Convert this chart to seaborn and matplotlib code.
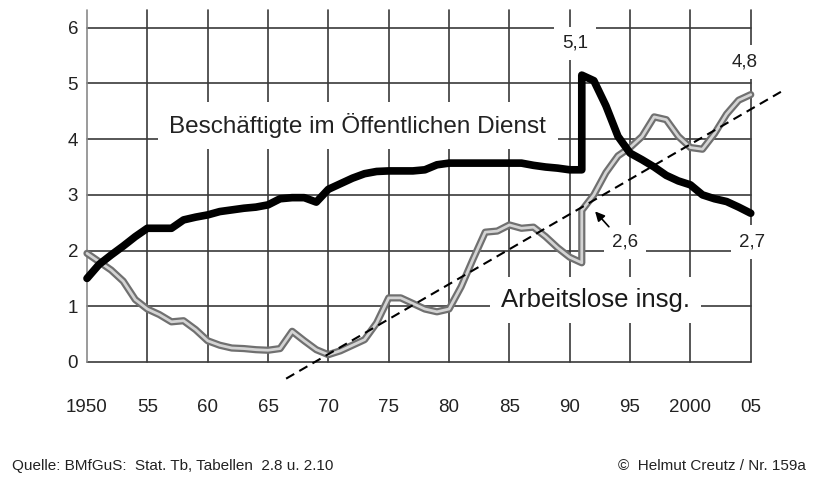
import numpy as np
import pandas as pd
import matplotlib
matplotlib.use("Agg")
import matplotlib.pyplot as plt
import matplotlib.patheffects as pe
import seaborn as sns

# --- data (millions / index values) ---
# public service employees (black line); 1991 appears twice for the jump (reunification)
staff_years = [1950, 1951, 1952, 1953, 1954, 1955, 1956, 1957, 1958, 1959,
               1960, 1961, 1962, 1963, 1964, 1965, 1966, 1967, 1968, 1969,
               1970, 1971, 1972, 1973, 1974, 1975, 1976, 1977, 1978, 1979,
               1980, 1981, 1982, 1983, 1984, 1985, 1986, 1987, 1988, 1989,
               1990, 1991, 1991, 1992, 1993, 1994, 1995, 1996, 1997, 1998,
               1999, 2000, 2001, 2002, 2003, 2004, 2005]
staff_values = [1.50, 1.75, 1.92, 2.08, 2.25, 2.40, 2.40, 2.40, 2.55, 2.60,
                2.64, 2.70, 2.73, 2.76, 2.78, 2.82, 2.93, 2.95, 2.95, 2.87,
                3.10, 3.20, 3.30, 3.38, 3.42, 3.43, 3.43, 3.43, 3.45, 3.54,
                3.57, 3.57, 3.57, 3.57, 3.57, 3.57, 3.57, 3.53, 3.50, 3.48,
                3.45, 3.45, 5.15, 5.05, 4.60, 4.05, 3.75, 3.63, 3.50, 3.35,
                3.25, 3.18, 3.00, 2.93, 2.88, 2.78, 2.67]

# unemployed total (grey line); 1991 twice (West -> all Germany)
jobless_years = [1950, 1951, 1952, 1953, 1954, 1955, 1956, 1957, 1958, 1959,
                 1960, 1961, 1962, 1963, 1964, 1965, 1966, 1967, 1968, 1969,
                 1970, 1971, 1972, 1973, 1974, 1975, 1976, 1977, 1978, 1979,
                 1980, 1981, 1982, 1983, 1984, 1985, 1986, 1987, 1988, 1989,
                 1990, 1991, 1991, 1992, 1993, 1994, 1995, 1996, 1997, 1998,
                 1999, 2000, 2001, 2002, 2003, 2004, 2005]
jobless_values = [1.95, 1.80, 1.65, 1.45, 1.12, 0.95, 0.85, 0.72, 0.74, 0.58,
                  0.38, 0.30, 0.25, 0.24, 0.22, 0.21, 0.24, 0.55, 0.38, 0.22,
                  0.13, 0.20, 0.30, 0.40, 0.70, 1.15, 1.15, 1.05, 0.95, 0.90,
                  0.95, 1.35, 1.85, 2.33, 2.35, 2.46, 2.40, 2.42, 2.25, 2.05,
                  1.88, 1.78, 2.72, 3.00, 3.40, 3.70, 3.85, 4.05, 4.40, 4.35,
                  4.05, 3.85, 3.82, 4.10, 4.45, 4.70, 4.80]

# dashed trend line of the unemployment series
trend_years = [1966.5, 2007.5]
trend_values = [-0.30, 4.85]

grid_years = [1950, 1955, 1960, 1965, 1970, 1975, 1980, 1985, 1990, 1995, 2000, 2005]
year_labels = ["1950", "55", "60", "65", "70", "75", "80", "85", "90", "95", "2000", "05"]
y_ticks = [0, 1, 2, 3, 4, 5, 6]

staff = pd.DataFrame({"Jahr": staff_years, "Wert": staff_values})
jobless = pd.DataFrame({"Jahr": jobless_years, "Wert": jobless_values})
trend = pd.DataFrame({"Jahr": trend_years, "Wert": trend_values})

sns.set_style("white")
plt.rcParams["font.family"] = ["Liberation Sans", "DejaVu Sans"]

fig = plt.figure(figsize=(8.17, 4.82), dpi=100)
ax = fig.add_axes([0.0991, 0.1971, 0.8641, 0.7857])
ax.set_xlim(1949.5, 2008)
ax.set_ylim(-0.45, 6.35)

# hand-drawn looking grid
grid_col = "#3a3a3a"
for y in y_ticks:
    ax.plot([1950, 2005], [y, y], color=grid_col, lw=1.2, zorder=1)
for yr in grid_years:
    col = "#8a8a8a" if yr == 1950 else grid_col
    ax.plot([yr, yr], [0, 6.32], color=col, lw=1.2, zorder=1)

# grey double line for the unemployed
sns.lineplot(data=jobless, x="Jahr", y="Wert", ax=ax, sort=False, estimator=None,
             color="#d4d4d4", lw=2.0, zorder=3,
             path_effects=[pe.Stroke(linewidth=5.2, foreground="#707070"), pe.Normal()])
sns.lineplot(data=trend, x="Jahr", y="Wert", ax=ax, sort=False, estimator=None,
             color="black", lw=1.5, dashes=False, zorder=4)
ax.lines[-1].set_dashes((4.5, 2.8))
sns.lineplot(data=staff, x="Jahr", y="Wert", ax=ax, sort=False, estimator=None,
             color="black", lw=5.5, zorder=5, solid_joinstyle="round")

box = dict(facecolor="white", edgecolor="none", pad=6)
big_box = dict(facecolor="white", edgecolor="none", pad=8)
ax.text(1972.45, 4.24, "Beschäftigte im Öffentlichen Dienst", fontsize=17.5,
        color="#222222", ha="center", va="center", bbox=big_box, zorder=2)
ax.text(1992.1, 1.11, "Arbeitslose insg.", fontsize=18.5, color="#1a1a1a",
        ha="center", va="center", bbox=big_box, zorder=2)
ax.text(1990.43, 5.72, "5,1", fontsize=13.5, color="#222222", ha="center", va="center", bbox=box, zorder=2)
ax.text(2004.5, 5.39, "4,8", fontsize=13.5, color="#222222", ha="center", va="center", bbox=box, zorder=2)
ax.text(1994.57, 2.15, "2,6", fontsize=13.5, color="#222222", ha="center", va="center", bbox=box, zorder=2)
ax.text(2005.1, 2.15, "2,7", fontsize=13.5, color="#222222", ha="center", va="center", bbox=box, zorder=2)
ax.annotate("", xy=(1991.95, 2.74), xytext=(1993.4, 2.39),
            arrowprops=dict(arrowstyle="-|>", color="black", lw=1.2, mutation_scale=14), zorder=6)

ax.set_xticks(grid_years)
ax.set_xticklabels(year_labels, fontsize=13.5, color="#222222")
ax.set_yticks(y_ticks)
ax.set_yticklabels([str(v) for v in y_ticks], fontsize=13.5, color="#222222")
ax.tick_params(axis="x", length=0, pad=9)
ax.tick_params(axis="y", length=0, pad=2)
ax.set_xlabel("")
ax.set_ylabel("")
for s in ax.spines.values():
    s.set_visible(False)

fig.text(12 / 817, 1 - 466 / 482, "Quelle: BMfGuS:  Stat. Tb, Tabellen  2.8 u. 2.10",
         fontsize=11, color="#222222", va="center", ha="left")
fig.text(806 / 817, 1 - 466 / 482, "©  Helmut Creutz / Nr. 159a",
         fontsize=11, color="#222222", va="center", ha="right")

fig.savefig("out.png", dpi=100)
